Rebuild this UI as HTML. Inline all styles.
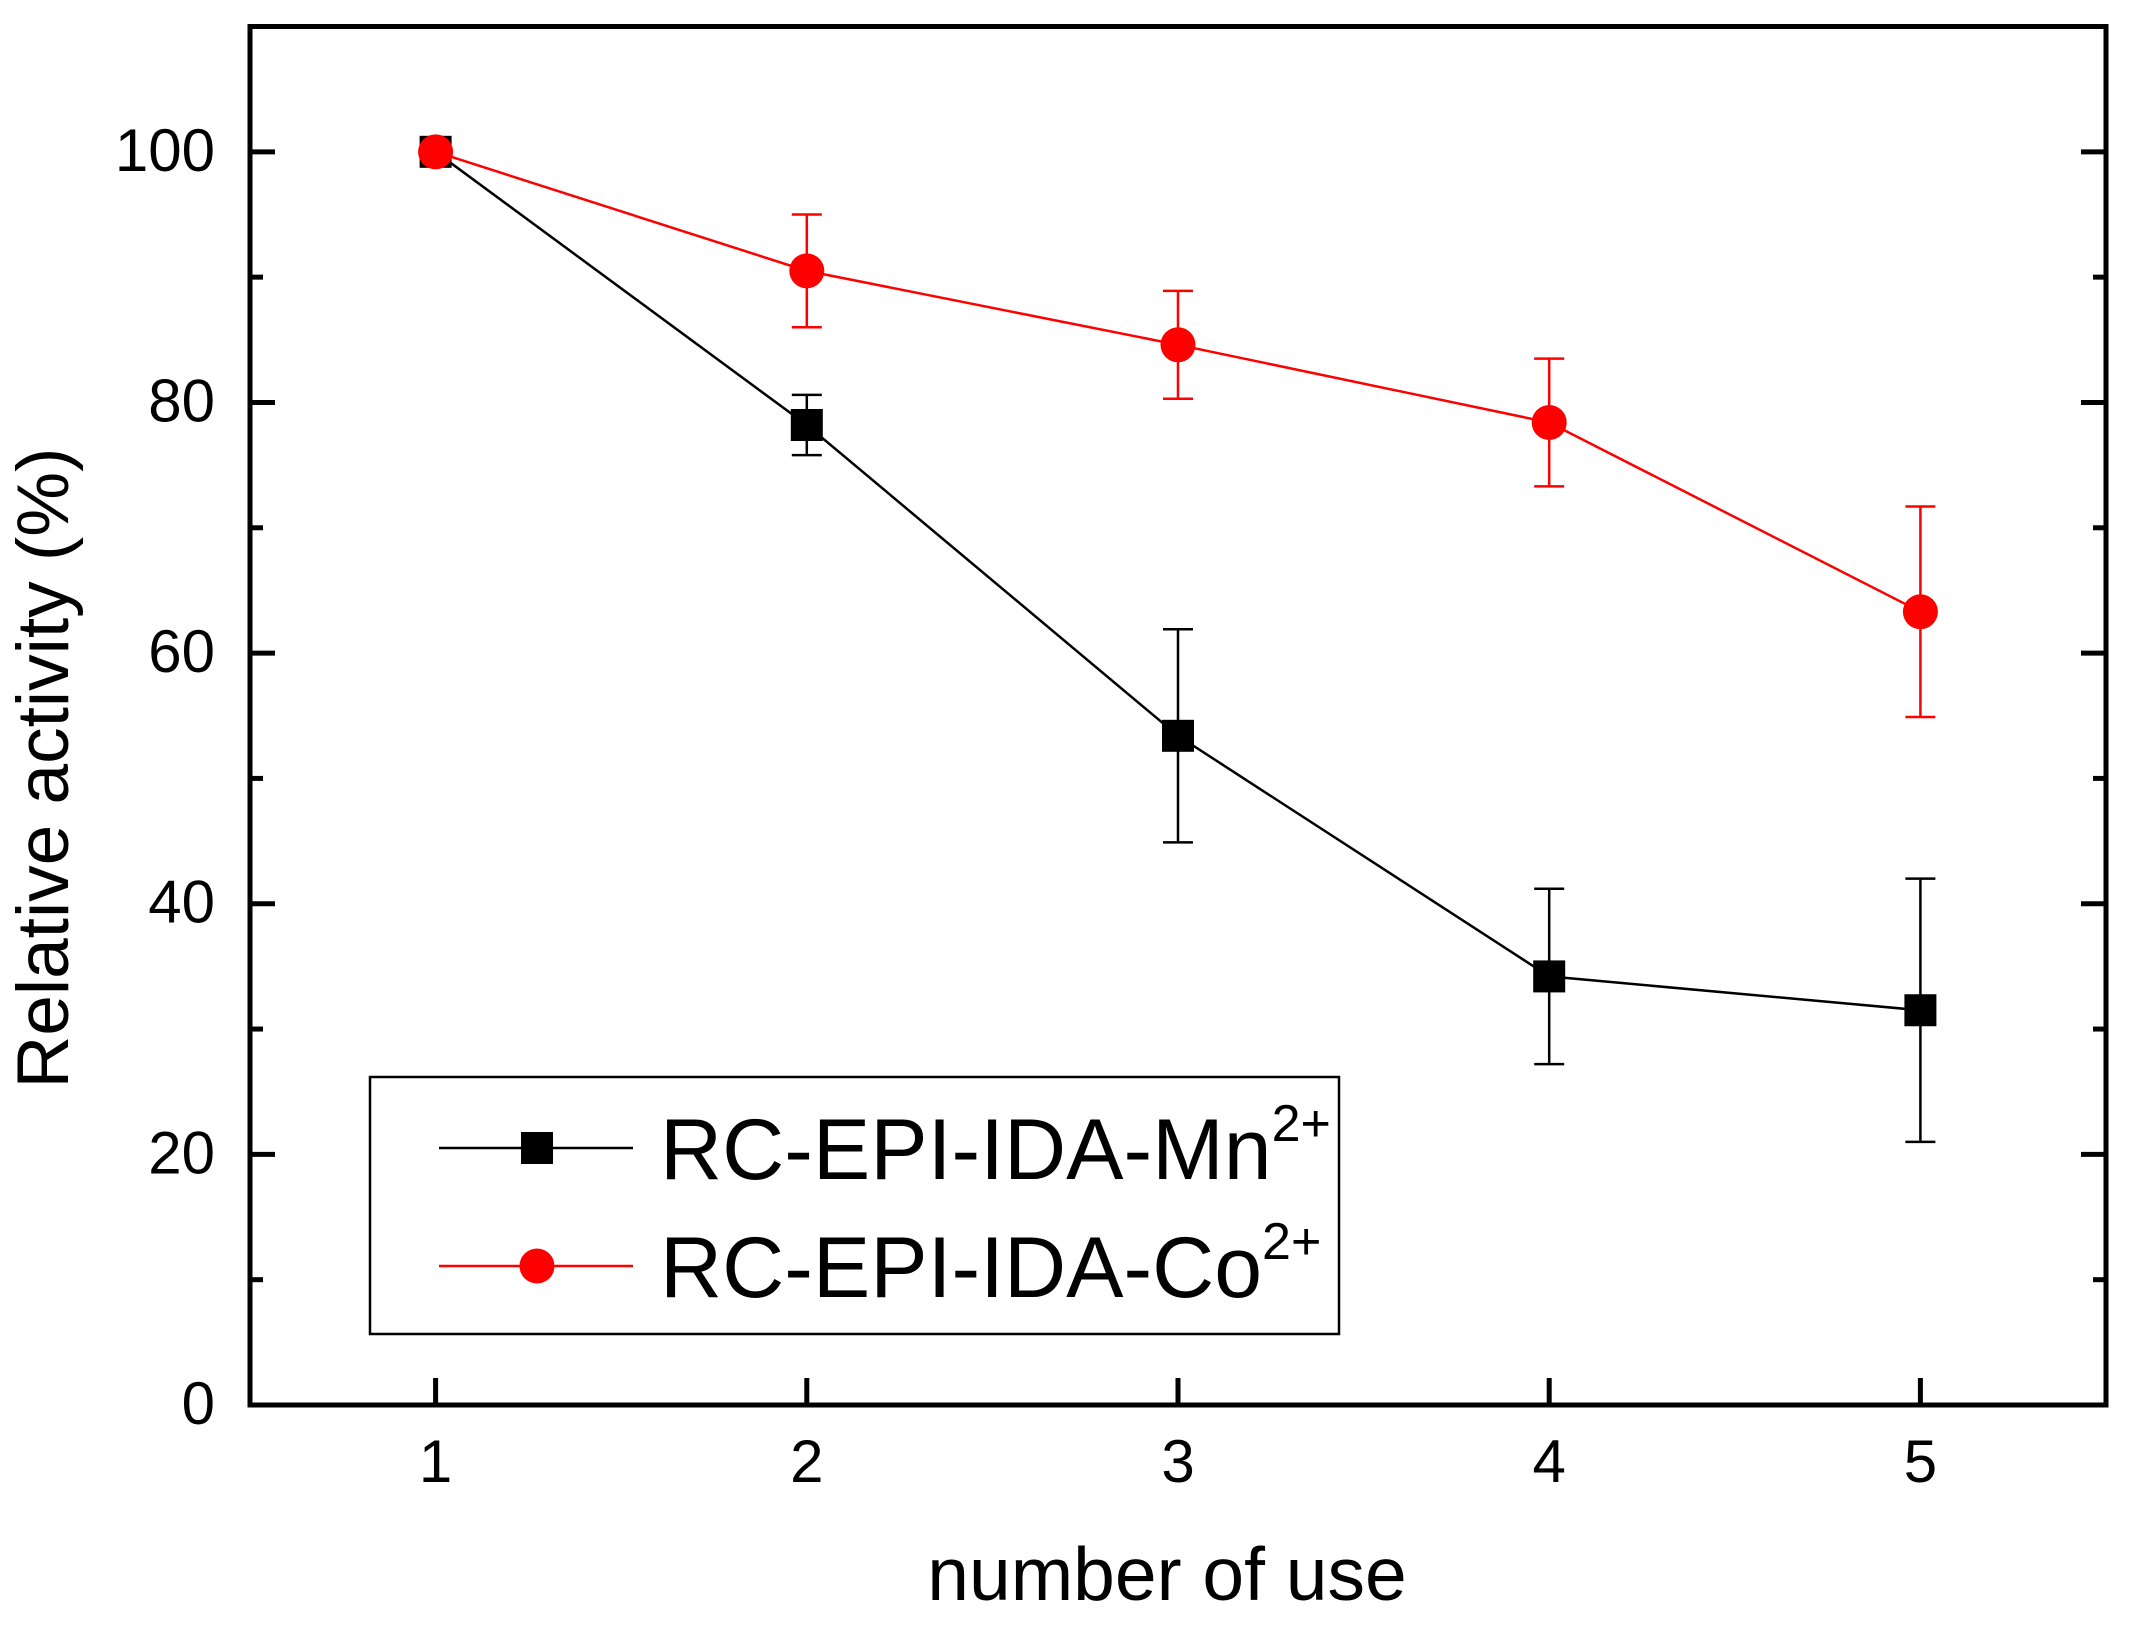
<!DOCTYPE html>
<html><head><meta charset="utf-8"><style>body{margin:0;background:#fff}svg{display:block}</style></head>
<body>
<svg id="chart" width="2130" height="1637" xmlns="http://www.w3.org/2000/svg" font-family="Liberation Sans, Arial, sans-serif">
<rect width="2130" height="1637" fill="#fff"/>
<g id="grid"></g>
<g id="series"></g>
<text x="1167" y="1600" font-size="75" text-anchor="middle">number of use</text>
<text transform="translate(68,768) rotate(-90)" font-size="73" text-anchor="middle">Relative activity (%)</text>
<g>
<rect x="370" y="1077" width="969" height="257" fill="#fff" stroke="#000" stroke-width="2.5"/>
<line x1="439" y1="1148" x2="633" y2="1148" stroke="#000" stroke-width="2.5"/>
<rect x="521" y="1132" width="32" height="32" fill="#000"/>
<text x="660" y="1179" font-size="86">RC-EPI-IDA-Mn<tspan font-size="52" dy="-38">2+</tspan></text>
<line x1="439" y1="1266" x2="633" y2="1266" stroke="#f00" stroke-width="2.5"/>
<circle cx="537" cy="1266" r="17.5" fill="#f00"/>
<text x="660" y="1297" font-size="86">RC-EPI-IDA-Co<tspan font-size="52" dy="-38">2+</tspan></text>
</g>
<rect x="250" y="26.5" width="1856" height="1378.5" fill="none" stroke="#000" stroke-width="5"/>
</svg>
<script>
const categories=[1,2,3,4,5];
const mnValues=[100,78.2,53.4,34.2,31.5];
const mnErrors=[0,2.4,8.5,7.0,10.5];
const coValues=[100,90.5,84.6,78.4,63.3];
const coErrors=[0,4.5,4.3,5.1,8.4];
const yTicks=[0,20,40,60,80,100];
const yMinorTicks=[10,30,50,70,90];

const NS="http://www.w3.org/2000/svg";
const X0=250,X1=2106,Y0=1405,Y1=26.5;
function xs(v){return X0+(v-0.5)/5*(X1-X0);}
function ys(v){return Y0-v/110*(Y0-Y1);}
function mk(tag,attrs,parent){const e=document.createElementNS(NS,tag);for(const k in attrs)e.setAttribute(k,attrs[k]);parent.appendChild(e);return e;}
const grid=document.getElementById('grid');
const ser=document.getElementById('series');
yTicks.forEach(t=>{
  const y=ys(t);
  let a=mk('line',{x1:X0,y1:y,x2:X0+25,y2:y,stroke:'#000','stroke-width':5},grid);
  
  
  let b=mk('line',{x1:X1,y1:y,x2:X1-25,y2:y,stroke:'#000','stroke-width':5},grid);
  
  
  let l=mk('text',{x:215,y:y+19,'font-size':60,'text-anchor':'end'},grid);
  l.textContent=t;
  
  
});
yMinorTicks.forEach(t=>{
  const y=ys(t);
  let a=mk('line',{x1:X0,y1:y,x2:X0+13,y2:y,stroke:'#000','stroke-width':5},grid);
  
  
  let b=mk('line',{x1:X1,y1:y,x2:X1-13,y2:y,stroke:'#000','stroke-width':5},grid);
  
  
});
categories.forEach(c=>{
  const x=xs(c);
  let a=mk('line',{x1:x,y1:Y0,x2:x,y2:Y0-27,stroke:'#000','stroke-width':5},grid);
  
  
  let l=mk('text',{x:x,y:1482,'font-size':60,'text-anchor':'middle'},grid);
  l.textContent=c;
  
  
});
function drawSeries(vals,errs,color,shape,name){
  const pts=categories.map((c,i)=>xs(c)+','+ys(vals[i])).join(' ');
  let pl=mk('polyline',{points:pts,fill:'none',stroke:color,'stroke-width':2.5},ser);
  
  
  categories.forEach((c,i)=>{
    const x=xs(c),y=ys(vals[i]),e=errs[i];
    if(e>0){
      const g=mk('g',{stroke:color,'stroke-width':2.5},ser);
      
      
      mk('line',{x1:x,y1:ys(vals[i]+e),x2:x,y2:ys(vals[i]-e)},g);
      mk('line',{x1:x-15,y1:ys(vals[i]+e),x2:x+15,y2:ys(vals[i]+e)},g);
      mk('line',{x1:x-15,y1:ys(vals[i]-e),x2:x+15,y2:ys(vals[i]-e)},g);
    }
    let m;
    if(shape==='square') m=mk('rect',{x:x-16,y:y-16,width:32,height:32,fill:color},ser);
    else m=mk('circle',{cx:x,cy:y,r:17.5,fill:color},ser);
    
    
  });
}
drawSeries(mnValues,mnErrors,'#000','square','mn-series');
drawSeries(coValues,coErrors,'#f00','circle','co-series');
</script>
</body></html>
